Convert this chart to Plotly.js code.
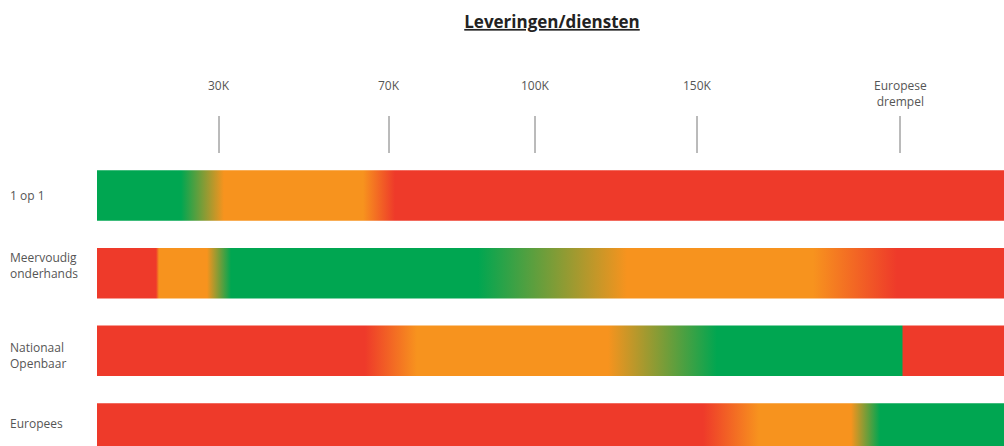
<!DOCTYPE html>
<html>
<head>
<meta charset="utf-8">
<script src="https://cdn.plot.ly/plotly-3.0.1.min.js"></script>
<style>html,body{margin:0;padding:0;background:#fff;}#chart{width:1004px;height:446px;}</style>
</head>
<body>
<div id="chart"></div>
<script>
// ---- data ----
const chartTitle = "Leveringen/diensten";
const rowLabels = ["1 op 1", "Meervoudig<br>onderhands", "Nationaal<br>Openbaar", "Europees"];
const thresholdLabels = ["30K", "70K", "100K", "150K", "Europese<br>drempel"];
const thresholdPos = [122, 292, 438, 600, 803];   // position along the bar scale
const barStart = 0;
const barEnd = 907;
const G = "#00a651", O = "#f7931e", R = "#ee3a2a";
// gradient stops per row (position along scale, colour)
const stopPos1 = [0, 84, 127, 266, 298, 907];
const stopCol1 = [G, G, O, O, R, R];
const stopPos2 = [0, 59, 62, 110, 134, 381, 530, 716, 800, 907];
const stopCol2 = [R, R, O, O, G, G, O, O, R, R];
const stopPos3 = [0, 268, 320, 511, 620, 805, 806, 907];
const stopCol3 = [R, R, O, O, G, G, R, R];
const stopPos4 = [0, 606, 662, 754, 783, 907];
const stopCol4 = [R, R, O, O, G, G];
const rowStops = [[stopPos1, stopCol1], [stopPos2, stopCol2], [stopPos3, stopCol3], [stopPos4, stopCol4]];
const barHeight = 0.65;

// ---- styling (label offsets in px) ----
const labelShift = [0, 8, -5, 5];

// ---- traces ----
const traces = rowStops.map(([pos, col], i) => {
  const span = barEnd - barStart;
  return {
    type: "scatter", mode: "lines",
    x: [barStart, barEnd, barEnd, barStart, barStart],
    y: [i - barHeight / 2, i - barHeight / 2, i + barHeight / 2, i + barHeight / 2, i - barHeight / 2],
    fill: "toself",
    line: {width: 0, color: "rgba(0,0,0,0)"},
    fillgradient: {
      type: "horizontal", start: barStart, stop: barEnd,
      colorscale: pos.map((p, k) => [(p - barStart) / span, col[k]])
    },
    hoverinfo: "skip", showlegend: false
  };
});

const fontFam = "Open Sans, Liberation Sans, sans-serif";
const annotations = [];
const shapes = [];
thresholdPos.forEach((p, i) => {
  annotations.push({
    x: p, xref: "x", y: 1 - 75 / 446, yref: "paper", yanchor: "top", xanchor: "center",
    text: thresholdLabels[i], showarrow: false, align: "center",
    font: {family: fontFam, size: 12, color: "#555"}
  });
  shapes.push({
    type: "line", xref: "x", yref: "paper", x0: p, x1: p,
    y0: 1 - 153 / 446, y1: 1 - 116 / 446,
    line: {color: "#777", width: 1}
  });
});
rowLabels.forEach((t, i) => {
  annotations.push({
    x: -89 / 907, xref: "paper", xanchor: "left", y: i, yref: "y", yanchor: "middle",
    yshift: labelShift[i],
    text: t, showarrow: false, align: "left",
    font: {family: fontFam, size: 12, color: "#555"}
  });
});

const layout = {
  width: 1004, height: 446,
  margin: {l: 97, r: 0, t: 0, b: 0},
  paper_bgcolor: "#fff", plot_bgcolor: "#fff",
  title: {
    text: "<b><u>" + chartTitle + "</u></b>",
    x: 552 / 1004, xanchor: "center", y: 1 - 22 / 446, yanchor: "middle",
    font: {family: fontFam, size: 17, color: "#222"}
  },
  xaxis: {range: [barStart, barEnd], visible: false, fixedrange: true},
  yaxis: {range: [3.225, -2.517], visible: false, fixedrange: true},
  annotations: annotations, shapes: shapes, showlegend: false
};

Plotly.newPlot("chart", traces, layout, {displayModeBar: false, staticPlot: true});
</script>
</body>
</html>
